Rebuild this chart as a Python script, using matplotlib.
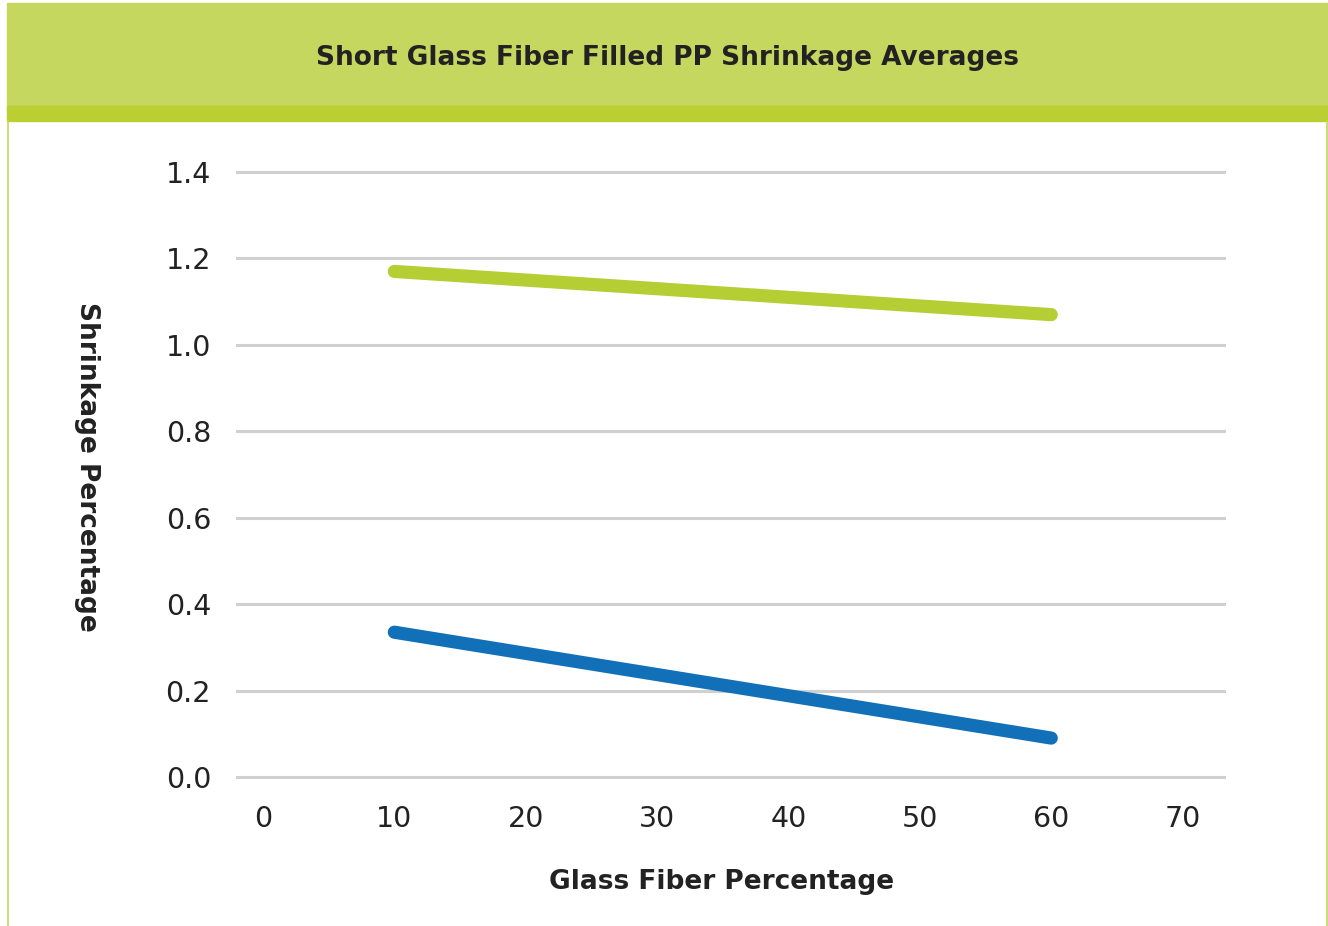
import matplotlib
matplotlib.use('Agg')
import matplotlib.pyplot as plt
from matplotlib.patches import Rectangle
from matplotlib.lines import Line2D

# data
fiber_pct = [10, 60]
shrink_flow = [1.17, 1.07]    # green series
shrink_cross = [0.335, 0.09]  # blue series

x_ticks = [0, 10, 20, 30, 40, 50, 60, 70]
y_ticks = [0.0, 0.2, 0.4, 0.6, 0.8, 1.0, 1.2, 1.4]

plt.rcParams['font.family'] = ['DejaVu Sans']

fig = plt.figure(figsize=(13.28, 9.26), dpi=100)
W, H = 1328, 926

# header band
fig.patches.append(Rectangle((7 / W, 1 - 106 / H), 1, 103 / H, transform=fig.transFigure,
                             color='#C5D75F', zorder=0))
fig.patches.append(Rectangle((7 / W, 1 - 121 / H), 1, 15 / H, transform=fig.transFigure,
                             color='#BBCF33', zorder=0))
# thin side borders
fig.lines.append(Line2D([7.5 / W, 7.5 / W], [0, 1 - 121 / H], transform=fig.transFigure,
                        color='#C5D75F', lw=1.2))
fig.lines.append(Line2D([1326.5 / W, 1326.5 / W], [0, 1 - 121 / H], transform=fig.transFigure,
                        color='#C5D75F', lw=1.2))

fig.text(668 / W, 1 - 58 / H, 'Short Glass Fiber Filled PP Shrinkage Averages',
         ha='center', va='center', fontsize=19, fontweight='bold', color='#222222')

ax = fig.add_axes([236 / W, 1 - 785.6 / H, 990 / W, (785.6 - 163.4) / H])
ax.plot(fiber_pct, shrink_flow, color='#B5CE34', lw=9.5, solid_capstyle='round', zorder=3)
ax.plot(fiber_pct, shrink_cross, color='#1170B8', lw=9.5, solid_capstyle='round', zorder=3)

ax.set_xlim(-2.05, 73.3)
ax.set_ylim(-0.02, 1.42)
ax.set_xticks(x_ticks)
ax.set_yticks(y_ticks)
ax.set_yticklabels([f'{v:.1f}' for v in y_ticks])
ax.grid(axis='y', color='#D0D0D0', lw=2.2)
ax.set_axisbelow(True)
for s in ax.spines.values():
    s.set_visible(False)
ax.tick_params(length=0, labelsize=20.5, colors='#222222')
ax.tick_params(axis='y', pad=18)
ax.tick_params(axis='x', pad=14)

fig.text(722 / W, 1 - 882 / H, 'Glass Fiber Percentage', ha='center', va='center',
         fontsize=19, fontweight='bold', color='#222222')
fig.text(87 / W, 1 - 467 / H, 'Shrinkage Percentage', ha='center', va='center',
         rotation=-90, fontsize=19, fontweight='bold', color='#222222')

fig.savefig('out.png', dpi=100)
